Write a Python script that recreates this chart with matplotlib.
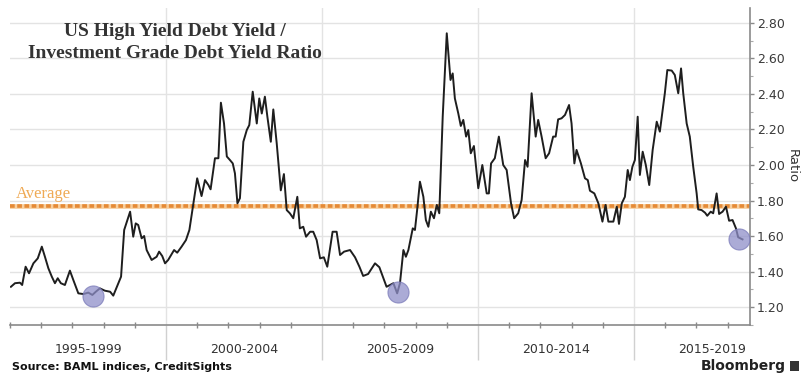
import matplotlib
matplotlib.use("Agg")
import matplotlib.pyplot as plt
import matplotlib.transforms as mtransforms
from matplotlib.patches import Rectangle
from matplotlib.ticker import MultipleLocator, FixedLocator

# HY / IG yield ratio (decimal year, ratio)
years = [
    1995.03, 1995.16, 1995.32, 1995.39, 1995.50, 1995.61, 1995.75, 1995.89, 1996.02, 1996.12,
    1996.23, 1996.34, 1996.44, 1996.53, 1996.63, 1996.76, 1996.92, 1997.03, 1997.19, 1997.35,
    1997.51, 1997.64, 1997.75, 1997.88, 1998.04, 1998.21, 1998.31, 1998.45, 1998.56, 1998.66,
    1998.85, 1998.95, 1999.03, 1999.11, 1999.22, 1999.30, 1999.38, 1999.54, 1999.70, 1999.78,
    1999.88, 1999.97, 2000.07, 2000.13, 2000.26, 2000.36, 2000.50, 2000.64, 2000.75, 2000.88,
    2001.00, 2001.14, 2001.25, 2001.36, 2001.43, 2001.57, 2001.68, 2001.76, 2001.86, 2001.95,
    2002.05, 2002.14, 2002.21, 2002.29, 2002.37, 2002.48, 2002.59, 2002.67, 2002.78, 2002.91,
    2002.99, 2003.07, 2003.17, 2003.25, 2003.36, 2003.44, 2003.55, 2003.68, 2003.78, 2003.87,
    2003.97, 2004.08, 2004.21, 2004.29, 2004.40, 2004.49, 2004.62, 2004.72, 2004.83, 2004.94,
    2005.06, 2005.17, 2005.34, 2005.47, 2005.58, 2005.71, 2005.90, 2006.06, 2006.20, 2006.32,
    2006.48, 2006.70, 2006.84, 2006.95, 2007.07, 2007.18, 2007.29, 2007.41, 2007.50, 2007.61,
    2007.69, 2007.77, 2007.91, 2007.98, 2008.05, 2008.14, 2008.25, 2008.33, 2008.41, 2008.49,
    2008.59, 2008.68, 2008.76, 2008.87, 2009.00, 2009.12, 2009.19, 2009.26, 2009.37, 2009.45,
    2009.53, 2009.62, 2009.69, 2009.77, 2009.87, 2009.94, 2010.01, 2010.14, 2010.28, 2010.35,
    2010.42, 2010.54, 2010.67, 2010.81, 2010.92, 2011.06, 2011.16, 2011.29, 2011.40, 2011.51,
    2011.59, 2011.72, 2011.85, 2011.93, 2012.04, 2012.17, 2012.28, 2012.41, 2012.49, 2012.57,
    2012.68, 2012.79, 2012.92, 2013.00, 2013.09, 2013.16, 2013.30, 2013.43, 2013.52, 2013.59,
    2013.73, 2013.86, 2013.99, 2014.09, 2014.18, 2014.34, 2014.45, 2014.52, 2014.61, 2014.71,
    2014.80, 2014.87, 2014.95, 2015.03, 2015.12, 2015.19, 2015.28, 2015.38, 2015.49, 2015.60,
    2015.73, 2015.83, 2015.92, 2015.99, 2016.07, 2016.21, 2016.31, 2016.42, 2016.51, 2016.58,
    2016.69, 2016.79, 2016.90, 2017.01, 2017.06, 2017.17, 2017.28, 2017.35, 2017.46, 2017.54,
    2017.65, 2017.73, 2017.84, 2017.95, 2018.05, 2018.16, 2018.27, 2018.34, 2018.48,
]
ratio = [
    1.314, 1.334, 1.337, 1.324, 1.427, 1.390, 1.446, 1.474, 1.540, 1.483,
    1.418, 1.371, 1.334, 1.362, 1.334, 1.324, 1.405, 1.352, 1.277, 1.273,
    1.281, 1.268, 1.286, 1.305, 1.292, 1.286, 1.264, 1.324, 1.371, 1.634,
    1.737, 1.596, 1.671, 1.662, 1.587, 1.600, 1.521, 1.465, 1.483, 1.512,
    1.487, 1.446, 1.465, 1.483, 1.521, 1.506, 1.540, 1.577, 1.634, 1.784,
    1.925, 1.825, 1.915, 1.887, 1.863, 2.038, 2.038, 2.351, 2.234, 2.048,
    2.028, 2.009, 1.953, 1.784, 1.813, 2.131, 2.197, 2.225, 2.413, 2.234,
    2.375, 2.290, 2.385, 2.272, 2.131, 2.313, 2.121, 1.857, 1.949, 1.746,
    1.728, 1.700, 1.821, 1.643, 1.652, 1.596, 1.624, 1.624, 1.577, 1.474,
    1.480, 1.427, 1.624, 1.624, 1.493, 1.512, 1.521, 1.480, 1.427, 1.375,
    1.386, 1.446, 1.424, 1.371, 1.314, 1.324, 1.334, 1.277, 1.334, 1.521,
    1.483, 1.521, 1.643, 1.634, 1.746, 1.906, 1.821, 1.690, 1.652, 1.737,
    1.700, 1.775, 1.728, 2.272, 2.742, 2.479, 2.516, 2.375, 2.290, 2.220,
    2.254, 2.160, 2.197, 2.066, 2.107, 1.990, 1.869, 2.000, 1.840, 1.840,
    2.009, 2.038, 2.160, 2.000, 1.972, 1.784, 1.700, 1.728, 1.803, 2.028,
    1.990, 2.404, 2.160, 2.254, 2.160, 2.038, 2.066, 2.160, 2.160, 2.257,
    2.263, 2.282, 2.338, 2.234, 2.009, 2.085, 2.009, 1.925, 1.915, 1.855,
    1.840, 1.784, 1.681, 1.775, 1.681, 1.681, 1.765, 1.668, 1.784, 1.821,
    1.972, 1.915, 1.990, 2.028, 2.272, 1.944, 2.075, 2.000, 1.887, 2.085,
    2.244, 2.188, 2.310, 2.404, 2.535, 2.532, 2.507, 2.404, 2.544, 2.404,
    2.234, 2.160, 1.990, 1.840, 1.750, 1.746, 1.731, 1.714, 1.737, 1.728,
    1.840, 1.724, 1.737, 1.765, 1.686, 1.690, 1.643, 1.593, 1.581,
]
average_ratio = 1.77

# Highlighted lows
low_years = [1997.66, 2007.43, 2018.37]
low_ratio = [1.262, 1.285, 1.583]

period_labels = ["1995-1999", "2000-2004", "2005-2009", "2010-2014", "2015-2019"]
period_starts = [1995, 2000, 2005, 2010, 2015]
y_ticks = [1.20, 1.40, 1.60, 1.80, 2.00, 2.20, 2.40, 2.60, 2.80]

fig = plt.figure(figsize=(8.03, 3.75), dpi=100)
fig.patch.set_facecolor("white")
ax = fig.add_axes([10 / 803, 1 - 325 / 375, 740 / 803, 317 / 375])

ax.set_xlim(1995, 2018.72)
ax.set_ylim(1.0986, 2.8845)

grid_col = "#e3e3e3"
for yv in y_ticks:
    ax.axhline(yv, color=grid_col, lw=1.0, zorder=0)
for xs in period_starts[1:]:
    ax.axvline(xs, color=grid_col, lw=1.0, zorder=0)

# Average line: light band with darker short dashes on top
ax.axhline(average_ratio, color="#f7cf9e", lw=3.4, zorder=2)
ax.axhline(average_ratio, color="#e58a36", lw=2.6, ls=(0, (1.3, 0.7)), zorder=2)
ax.text(1995.18, average_ratio + 0.022, "Average", color="#efaa55",
        fontsize=12, family="Liberation Serif", va="bottom", ha="left")

ax.plot(years, ratio, color="#1e1e1e", lw=1.4, zorder=3, solid_joinstyle="round")

ax.scatter(low_years, low_ratio, s=230, color="#8f8fc9", alpha=0.75,
           edgecolors="#7a7ab8", linewidths=0.8, zorder=4)

# Spines
for side in ["left", "top"]:
    ax.spines[side].set_visible(False)
ax.spines["bottom"].set_color("#8a8a8a")
ax.spines["right"].set_color("#8a8a8a")
ax.spines["bottom"].set_linewidth(1.2)
ax.spines["right"].set_linewidth(1.2)

# Y axis on the right
ax.yaxis.tick_right()
ax.yaxis.set_label_position("right")
ax.set_yticks(y_ticks)
ax.set_yticklabels([f"{v:.2f}" for v in y_ticks])
ax.yaxis.set_minor_locator(MultipleLocator(0.1))
ax.tick_params(axis="y", which="major", length=3, width=1, color="#8a8a8a",
               labelsize=9, labelcolor="#3a3a3a", pad=2)
ax.tick_params(axis="y", which="minor", length=2, width=0.8, color="#aaaaaa")
ax.set_ylabel("Ratio", rotation=270, labelpad=10, fontsize=9.5, color="#333333")

# X axis: period separators and yearly minor ticks
ax.set_xticks(period_starts[1:])
ax.set_xticklabels([])
ax.xaxis.set_minor_locator(FixedLocator(list(range(1995, 2019))))
ax.tick_params(axis="x", which="major", length=25, width=1, color="#d0d0d0",
               direction="out")
ax.tick_params(axis="x", which="minor", length=4, width=1, color="#8a8a8a",
               direction="inout")

trans = mtransforms.blended_transform_factory(ax.transData, ax.transAxes)
for start, lab in zip(period_starts, period_labels):
    ax.text(start + 2.5, -0.078, lab, transform=trans, ha="center", va="center",
            fontsize=9, color="#333333")

# Title
ax.text(175 / 803, 1 - 32 / 375, "US High Yield Debt Yield /",
        transform=fig.transFigure, ha="center", va="center",
        fontsize=14, fontweight="bold", family="Liberation Serif", color="#333333")
ax.text(175 / 803, 1 - 53 / 375, "Investment Grade Debt Yield Ratio",
        transform=fig.transFigure, ha="center", va="center",
        fontsize=14, fontweight="bold", family="Liberation Serif", color="#333333")

# Footer
fig.text(12 / 803, 1 - 367 / 375, "Source: BAML indices, CreditSights",
         ha="left", va="center", fontsize=8, fontweight="bold", color="#111111")
fig.text(786 / 803, 1 - 366 / 375, "Bloomberg", ha="right", va="center",
         fontsize=10, fontweight="bold", color="#222222")
fig.patches.append(Rectangle((790 / 803, 1 - 371 / 375), 9 / 803, 10 / 375,
                             transform=fig.transFigure, facecolor="#333333",
                             edgecolor="none"))

fig.savefig("out.png", dpi=100)
